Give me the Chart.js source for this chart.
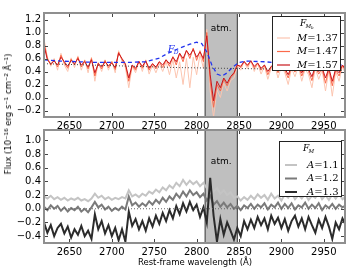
<!DOCTYPE html>
<html>
<head>
<meta charset="utf-8">
<script src="https://cdn.jsdelivr.net/npm/chart.js@4.4.1/dist/chart.umd.min.js"></script>
<style>
  body { margin: 0; background: #fff; }
  #wrap { position: relative; width: 360px; height: 270px; overflow: hidden; font-family: "DejaVu Sans", sans-serif; }
  canvas { position: absolute; left: 0; }
  #ylab { position: absolute; left: 8px; top: 114px; transform: translate(-50%, -50%) rotate(-90deg); white-space: nowrap; font-size: 8.5px; color: #000; }
  #xlab { position: absolute; left: 195px; top: 262px; transform: translate(-50%, -50%); white-space: nowrap; font-size: 8.5px; color: #000; }
</style>
</head>
<body>
<div id="wrap">
  <canvas id="botChart" width="360" height="145" style="top:125px"></canvas>
  <canvas id="topChart" width="360" height="132" style="top:0"></canvas>
  <div id="ylab">Flux (10⁻¹⁶ erg s⁻¹ cm⁻² Å⁻¹)</div>
  <div id="xlab">Rest-frame wavelength (Å)</div>
</div>
<script>
// Sampling grid of the spectra (4 Å bins)
const waves = [];
for (let w = 2620; w <= 2976; w += 4) waves.push(w);

const xTicks = [2650, 2700, 2750, 2800, 2850, 2900, 2950];
const topYTicks = [-0.2, 0, 0.2, 0.4, 0.6, 0.8, 1.0, 1.2];
const botYTicks = [-0.4, -0.2, 0, 0.2, 0.4, 0.6, 0.8, 1.0];
const atmBand = [2810, 2848];

// Top panel: F_Mb for three M values
const m137 = [0.90, 0.62, 0.48, 0.60, 0.42, 0.68, 0.50, 0.40, 0.61, 0.46,
  0.64, 0.42, 0.58, 0.38, 0.62, 0.25, 0.54, 0.40, 0.58, 0.42,
  0.56, 0.38, 0.72, 0.56, 0.46, 0.15, 0.48, 0.38, 0.56, 0.40,
  0.58, 0.36, 0.50, 0.38, 0.52, 0.40, 0.55, 0.35, 0.58, 0.30,
  0.55, 0.20, 0.60, 0.15, 0.62, 0.35, 0.66, 0.45, 1.05, 0.10,
  -0.30, 0.12, 0.00, 0.22, 0.10, 0.26, 0.30, 0.48, 0.42, 0.55,
  0.44, 0.56, 0.40, 0.52, 0.36, 0.48, 0.28, 0.45, 0.50, 0.30,
  0.48, 0.38, 0.20, 0.45, 0.32, 0.48, 0.25, 0.44, 0.35, 0.15,
  0.45, 0.28, 0.42, 0.10, 0.42, 0.02, 0.40, 0.25, 0.48, 0.35];
const m147 = [0.85, 0.60, 0.50, 0.58, 0.47, 0.65, 0.53, 0.45, 0.59, 0.50,
  0.62, 0.47, 0.57, 0.44, 0.60, 0.33, 0.53, 0.44, 0.57, 0.46,
  0.55, 0.43, 0.70, 0.58, 0.50, 0.25, 0.49, 0.42, 0.56, 0.45,
  0.57, 0.42, 0.52, 0.44, 0.55, 0.46, 0.58, 0.48, 0.63, 0.50,
  0.68, 0.55, 0.73, 0.60, 0.76, 0.57, 0.72, 0.55, 1.00, 0.25,
  -0.15, 0.20, 0.10, 0.28, 0.18, 0.30, 0.36, 0.50, 0.46, 0.56,
  0.48, 0.57, 0.45, 0.53, 0.42, 0.50, 0.35, 0.47, 0.52, 0.38,
  0.50, 0.42, 0.30, 0.47, 0.39, 0.50, 0.33, 0.46, 0.40, 0.26,
  0.47, 0.36, 0.45, 0.22, 0.44, 0.18, 0.43, 0.33, 0.50, 0.40];
const m157 = [0.80, 0.58, 0.52, 0.56, 0.50, 0.62, 0.55, 0.48, 0.57, 0.52,
  0.60, 0.50, 0.55, 0.47, 0.58, 0.38, 0.52, 0.47, 0.55, 0.49,
  0.53, 0.46, 0.68, 0.60, 0.52, 0.30, 0.50, 0.45, 0.55, 0.48,
  0.56, 0.45, 0.52, 0.47, 0.55, 0.50, 0.58, 0.52, 0.62, 0.55,
  0.68, 0.60, 0.72, 0.65, 0.74, 0.62, 0.70, 0.60, 0.95, 0.35,
  -0.05, 0.25, 0.15, 0.30, 0.22, 0.32, 0.38, 0.50, 0.48, 0.55,
  0.50, 0.56, 0.48, 0.53, 0.45, 0.50, 0.40, 0.48, 0.52, 0.42,
  0.50, 0.45, 0.35, 0.48, 0.42, 0.50, 0.38, 0.47, 0.43, 0.32,
  0.48, 0.40, 0.46, 0.30, 0.45, 0.25, 0.44, 0.38, 0.50, 0.42];

// F_D template (blue dashed) and continuum (dotted)
const fdWave = [2620, 2640, 2660, 2680, 2700, 2720, 2740, 2755, 2766, 2780, 2792, 2800, 2806, 2812,
  2818, 2824, 2830, 2836, 2842, 2850, 2860, 2880, 2900, 2920, 2940, 2960, 2975];
const fdFlux = [0.58, 0.56, 0.55, 0.54, 0.54, 0.54, 0.55, 0.60, 0.68, 0.76, 0.82, 0.85, 0.83, 0.70,
  0.50, 0.36, 0.33, 0.38, 0.46, 0.54, 0.56, 0.55, 0.53, 0.52, 0.51, 0.50, 0.50];
const contWave = [2620, 2780, 2975];
const contFlux = [0.52, 0.46, 0.42];

// Bottom panel: F_M for three A values
const a11 = [0.18, 0.15, 0.19, 0.14, 0.17, 0.13, 0.16, 0.12, 0.15, 0.13,
  0.16, 0.12, 0.14, 0.11, 0.15, 0.22, 0.16, 0.19, 0.14, 0.17,
  0.13, 0.16, 0.14, 0.17, 0.15, 0.27, 0.18, 0.21, 0.17, 0.22,
  0.19, 0.25, 0.22, 0.28, 0.24, 0.31, 0.27, 0.34, 0.30, 0.38,
  0.33, 0.42, 0.35, 0.41, 0.36, 0.40, 0.33, 0.38, 0.30, 0.35,
  0.25, 0.30, 0.22, 0.27, 0.20, 0.24, 0.16, 0.18, 0.12, 0.17,
  0.13, 0.19, 0.14, 0.21, 0.16, 0.20, 0.13, 0.22, 0.15, 0.19,
  0.12, 0.21, 0.16, 0.23, 0.14, 0.20, 0.15, 0.22, 0.13, 0.19,
  0.16, 0.24, 0.14, 0.20, 0.13, 0.21, 0.15, 0.22, 0.14, 0.18];
const a12 = [0.03, -0.02, 0.05, 0.00, 0.04, -0.03, 0.02, -0.04, 0.01, -0.02,
  0.03, -0.04, 0.00, -0.05, 0.02, 0.10, 0.02, 0.06, -0.01, 0.03,
  -0.03, 0.01, -0.02, 0.03, -0.01, 0.18, 0.05, 0.09, 0.03, 0.08,
  0.04, 0.11, 0.06, 0.13, 0.08, 0.16, 0.10, 0.18, 0.13, 0.22,
  0.16, 0.25, 0.18, 0.27, 0.20, 0.24, 0.17, 0.22, 0.12, 0.19,
  0.06, 0.11, 0.03, 0.09, 0.02, 0.07, 0.00, 0.04, -0.02, 0.05,
  0.01, 0.07, 0.00, 0.06, 0.02, 0.08, -0.01, 0.06, 0.02, 0.09,
  0.00, 0.07, 0.01, 0.08, -0.01, 0.05, 0.02, 0.09, 0.00, 0.06,
  0.01, 0.08, -0.02, 0.05, 0.01, 0.07, 0.00, 0.06, 0.02, 0.05];
const a13 = [-0.20, -0.35, -0.24, -0.40, -0.28, -0.22, -0.36, -0.26, -0.42, -0.30,
  -0.38, -0.25, -0.40, -0.32, -0.44, -0.08, -0.30, -0.18, -0.36, -0.24,
  -0.40, -0.28, -0.46, -0.30, -0.48, -0.04, -0.25, -0.15, -0.30, -0.18,
  -0.32, -0.14, -0.26, -0.10, -0.22, -0.06, -0.18, -0.02, -0.14, 0.04,
  -0.08, 0.08, -0.04, 0.10, -0.02, 0.06, -0.12, 0.02, -0.20, 0.45,
  -0.10, -0.48, -0.15, -0.38, -0.20, -0.32, -0.45, -0.28, -0.40, -0.18,
  -0.30, -0.16, -0.28, -0.12, -0.24, -0.14, -0.30, -0.10, -0.22, -0.13,
  -0.28, -0.15, -0.32, -0.18, -0.10, -0.26, -0.14, -0.30, -0.12, -0.24,
  -0.35, -0.16, -0.28, -0.12, -0.26, -0.44, -0.20, -0.30, -0.14, -0.24];

const FONT = '"DejaVu Sans", sans-serif';
const pts = (xs, ys) => xs.map((x, i) => ({ x: x, y: ys[i] }));
const fmt = v => (v < 0 ? '\u2212' : '') + Math.abs(v).toFixed(1);

function line(label, xs, ys, color, width, order, dash) {
    return { label, data: pts(xs, ys), borderColor: color, borderWidth: width, pointRadius: 0,
             borderDash: dash || [], order, fill: false, tension: 0 };
}

// Draw an italic symbol followed by plain text, like matplotlib mathtext
function mathLabel(ctx, x, y, sym, rest, size) {
    ctx.textBaseline = 'middle';
    ctx.textAlign = 'left';
    ctx.font = 'italic ' + size + 'px "DejaVu Serif", serif';
    ctx.fillText(sym, x, y);
    const w = ctx.measureText(sym).width;
    ctx.font = size + 'px "DejaVu Serif", serif';
    ctx.fillText(rest, x + w, y);
}

// Frame, inward ticks, atm. band, legend box
const framePlugin = {
    id: 'frame',
    beforeDatasetsDraw(chart) {
        const { ctx, chartArea: a, scales: { x } } = chart;
        const x0 = x.getPixelForValue(atmBand[0]), x1 = x.getPixelForValue(atmBand[1]);
        ctx.save();
        ctx.fillStyle = '#bfbfbf';
        ctx.fillRect(x0, a.top, x1 - x0, a.bottom - a.top);
        ctx.strokeStyle = '#333';
        ctx.lineWidth = 1;
        ctx.beginPath();
        ctx.moveTo(x0, a.top); ctx.lineTo(x0, a.bottom);
        ctx.moveTo(x1, a.top); ctx.lineTo(x1, a.bottom);
        ctx.stroke();
        ctx.restore();
    },
    afterDraw(chart) {
        const o = chart.options.plugins.frame;
        const { ctx, chartArea: a, scales: { x, y } } = chart;
        ctx.save();
        // inward tick marks
        ctx.strokeStyle = '#444';
        ctx.lineWidth = 1;
        ctx.beginPath();
        xTicks.forEach(v => {
            const px = Math.round(x.getPixelForValue(v)) + 0.5;
            ctx.moveTo(px, a.bottom); ctx.lineTo(px, a.bottom - 4);
            ctx.moveTo(px, a.top); ctx.lineTo(px, a.top + 4);
        });
        o.yTicks.forEach(v => {
            const py = Math.round(y.getPixelForValue(v)) + 0.5;
            ctx.moveTo(a.left, py); ctx.lineTo(a.left + 4, py);
            ctx.moveTo(a.right, py); ctx.lineTo(a.right - 4, py);
        });
        ctx.stroke();
        // border
        ctx.strokeStyle = '#8f8f8f';
        ctx.lineWidth = 2;
        ctx.strokeRect(a.left, a.top, a.right - a.left, a.bottom - a.top);

        // atm. label
        const xc = (x.getPixelForValue(atmBand[0]) + x.getPixelForValue(atmBand[1])) / 2;
        ctx.fillStyle = '#000';
        ctx.font = '9px ' + FONT;
        ctx.textAlign = 'center';
        ctx.textBaseline = 'middle';
        ctx.fillText('atm.', xc, a.top + o.atmY);

        // F_D label
        if (o.fd) {
            ctx.fillStyle = '#2233ee';
            ctx.font = 'italic 10px "DejaVu Serif", serif';
            ctx.textAlign = 'left';
            const fx = x.getPixelForValue(o.fd[0]), fy = y.getPixelForValue(o.fd[1]);
            ctx.fillText('F', fx, fy);
            ctx.font = 'italic 6px "DejaVu Serif", serif';
            ctx.fillText('D', fx + 6, fy + 3);
        }

        // legend
        const L = o.legend;
        const bx = a.right - L.right - L.w, by = a.top + L.top;
        ctx.fillStyle = '#fff';
        ctx.fillRect(bx, by, L.w, L.h);
        ctx.strokeStyle = '#222';
        ctx.lineWidth = 1;
        ctx.strokeRect(bx + 0.5, by + 0.5, L.w, L.h);
        // title F with subscript
        ctx.fillStyle = '#000';
        ctx.textAlign = 'left';
        ctx.textBaseline = 'middle';
        ctx.font = 'italic 9px "DejaVu Serif", serif';
        ctx.fillText('F', bx + L.titleX, by + 8);
        ctx.font = 'italic 5.5px "DejaVu Serif", serif';
        ctx.fillText(L.sub, bx + L.titleX + 5.5, by + 10.5);
        if (L.sub2) {
            ctx.font = 'italic 4px "DejaVu Serif", serif';
            ctx.fillText(L.sub2, bx + L.titleX + 11, by + 12);
        }
        L.items.forEach((it, i) => {
            const ry = by + L.row0 + i * L.rowH;
            ctx.strokeStyle = it.color;
            ctx.lineWidth = it.width;
            ctx.beginPath();
            ctx.moveTo(bx + L.lineX0, ry); ctx.lineTo(bx + L.lineX1, ry);
            ctx.stroke();
            ctx.fillStyle = '#000';
            mathLabel(ctx, bx + L.textX, ry, it.sym, it.rest, 10);
        });
        ctx.restore();
    }
};

function baseOptions(yMin, yMax, yTicks, padTop, xHeight, frame) {
    return {
        responsive: false,
        animation: false,
        layout: { padding: { left: 0, right: 15, top: padTop, bottom: 0 } },
        plugins: { legend: { display: false }, tooltip: { enabled: false }, frame },
        scales: {
            x: {
                type: 'linear', min: 2620, max: 2975,
                grid: { display: false, drawTicks: false }, border: { display: false },
                afterBuildTicks: s => { s.ticks = xTicks.map(v => ({ value: v })); },
                afterFit: s => { s.height = xHeight; s.paddingLeft = 0; s.paddingRight = 0; },
                ticks: { padding: 3, color: '#000', font: { family: FONT, size: 10 }, callback: v => v, maxRotation: 0, autoSkip: false }
            },
            y: {
                min: yMin, max: yMax,
                grid: { display: false, drawTicks: false }, border: { display: false },
                afterBuildTicks: s => { s.ticks = yTicks.map(v => ({ value: v })); },
                afterFit: s => { s.width = 44; s.paddingTop = 0; s.paddingBottom = 0; },
                ticks: { padding: 3, color: '#000', font: { family: FONT, size: 10 }, callback: v => fmt(v), autoSkip: false }
            }
        }
    };
}

new Chart(document.getElementById('topChart'), {
    type: 'line',
    data: {
        datasets: [
            line('cont', contWave, contFlux, '#444', 1, 0, [1, 2]),
            line('F_D', fdWave, fdFlux, '#2233ee', 1.3, 1, [4, 3]),
            line('M=1.57', waves, m157, '#c8161c', 1, 2),
            line('M=1.47', waves, m147, '#fb6a4a', 1, 3),
            line('M=1.37', waves, m137, '#fcc5b0', 1, 4)
        ]
    },
    options: baseOptions(-0.3, 1.3, topYTicks, 13, 15, {
        yTicks: topYTicks, atmY: 16, fd: [2766, 0.74],
        legend: { right: 5, top: 3, w: 68, h: 54, titleX: 28, sub: 'M', sub2: 'b',
                  row0: 22, rowH: 13.5, lineX0: 5, lineX1: 18, textX: 25,
                  items: [
                      { sym: 'M', rest: '=1.37', color: '#fcc5b0', width: 1.2 },
                      { sym: 'M', rest: '=1.47', color: '#fb6a4a', width: 1.2 },
                      { sym: 'M', rest: '=1.57', color: '#c8161c', width: 1.2 }
                  ] }
    }),
    plugins: [framePlugin]
});

new Chart(document.getElementById('botChart'), {
    type: 'line',
    data: {
        datasets: [
            line('zero', [2620, 2975], [0, 0], '#666', 1, 0, [1, 2]),
            line('A=1.3', waves, a13, '#2b2b2b', 2, 1),
            line('A=1.2', waves, a12, '#7a7a7a', 2, 2),
            line('A=1.1', waves, a11, '#c4c4c4', 2, 3)
        ]
    },
    options: baseOptions(-0.5, 1.15, botYTicks, 5, 27, {
        yTicks: botYTicks, atmY: 32, fd: null,
        legend: { right: 4, top: 11, w: 62, h: 55, titleX: 24, sub: 'M', sub2: null,
                  row0: 24, rowH: 13.5, lineX0: 6, lineX1: 18, textX: 28,
                  items: [
                      { sym: 'A', rest: '=1.1', color: '#c4c4c4', width: 2 },
                      { sym: 'A', rest: '=1.2', color: '#7a7a7a', width: 2 },
                      { sym: 'A', rest: '=1.3', color: '#2b2b2b', width: 2 }
                  ] }
    }),
    plugins: [framePlugin]
});
</script>
</body>
</html>
